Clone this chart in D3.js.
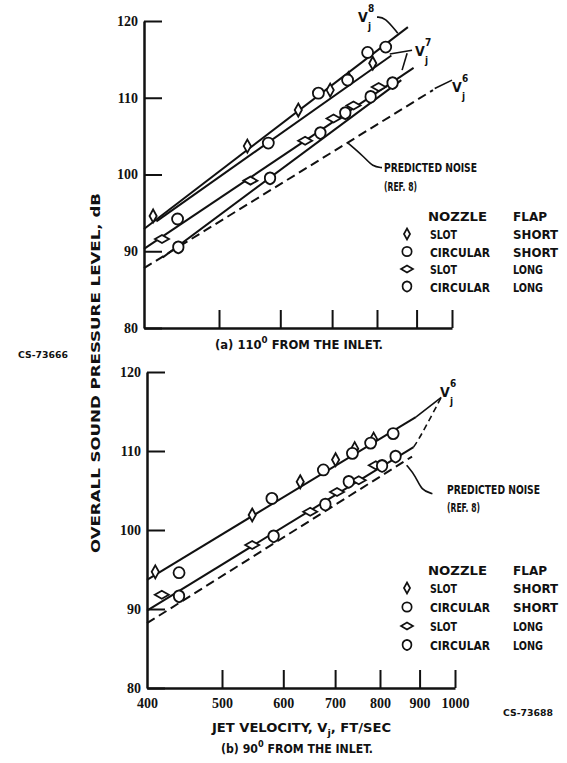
<!DOCTYPE html>
<html lang="en">
<head>
<meta charset="utf-8">
<style>
  body { margin: 0; background: #fff; }
  svg { display: block; }
  .lbl { font-family: "Liberation Sans Narrow", "DejaVu Sans Condensed", "Roboto Condensed", sans-serif; font-weight: bold; fill: #111; }
  .num { font-family: "Liberation Serif", "DejaVu Serif", serif; font-weight: bold; fill: #111; font-size: 14px; }
  .axis .domain { stroke: #111; stroke-width: 2.5; }
  .axis .tick line { stroke: #111; stroke-width: 2; }
</style>
</head>
<body>
<svg width="567" height="763"></svg>
<script src="https://d3js.org/d3.v7.min.js"></script>
<script>
// ---- data: [jet velocity ft/sec, OASPL dB] ----
var velTicks = [400, 500, 600, 700, 800, 900, 1000];
var dbTicks = [80, 90, 100, 110, 120];

// (a) 110 deg from the inlet
var aSlotShort = [[411, 94.6], [544, 103.7], [633, 108.4], [696, 111.0], [735, 112.5], [790, 114.5]];
var aCircShort = [[442, 94.2], [579, 104.1], [672, 110.6], [733, 112.3], [778, 115.9], [821, 116.6]];
var aSlotLong = [[422, 91.6], [549, 99.2], [646, 104.4], [703, 107.3], [746, 109.0], [804, 111.4]];
var aCircLong = [[443, 90.5], [582, 99.5], [676, 105.4], [728, 108.0], [785, 110.1], [838, 111.9]];
var aFitV8 = [[400, 92.9], [877, 119.2]];
var aFitV7short = [[415, 93.9], [835, 115.5]];
var aFitV7long = [[400, 90.3], [892, 113.9]];
var aFitLong2 = [[423, 89.2], [860, 112.3]];
var aPredicted = [[400, 87.8], [945, 111.0]];

// (b) 90 deg from the inlet
var bSlotShort = [[410, 94.7], [547, 101.9], [631, 106.1], [701, 108.9], [742, 110.3], [785, 111.5]];
var bCircShort = [[440, 94.6], [580, 104.0], [676, 107.6], [737, 109.7], [778, 111.0], [832, 112.2]];
var bSlotLong = [[418, 91.8], [547, 98.1], [650, 102.3], [704, 104.8], [751, 106.3], [790, 108.2]];
var bCircLong = [[440, 91.6], [583, 99.2], [680, 103.2], [729, 106.1], [805, 108.1], [838, 109.3]];
var bFitShort = [[400, 93.7], [890, 114.3]];
var bFitLong = [[400, 89.8], [884, 110.5]];
var bPredicted = [[400, 88.2], [880, 109.3]];

var legendRows = [
  ["slotShort", "SLOT", "SHORT"],
  ["circShort", "CIRCULAR", "SHORT"],
  ["slotLong", "SLOT", "LONG"],
  ["circLong", "CIRCULAR", "LONG"]
];

var svg = d3.select("svg");

// marker shapes
var shapes = {
  slotShort: "M0,-6.5L3.6,0L0,6.5L-3.6,0Z",
  circShort: "M5.5,0A5.5,5.5 0 1,1 -5.5,0A5.5,5.5 0 1,1 5.5,0Z",
  slotLong: "M-7,0L0,-4L7,0L0,4Z",
  circLong: "M0,-6Q5.5,-5 5.2,0Q5,4.5 0,6Q-5,4.5 -5.2,0Q-5.5,-5 0,-6Z"
};

function drawPanel(x, y, series, fits, predicted, showLabels) {
  var g = svg.append("g");
  var line = d3.line().x(function(d) { return x(d[0]); }).y(function(d) { return y(d[1]); });

  g.append("g")
    .attr("class", "axis")
    .attr("transform", "translate(" + x(400) + ",0)")
    .call(d3.axisLeft(y).tickValues(dbTicks).tickSizeInner(-18).tickSizeOuter(0).tickPadding(6))
    .selectAll("text").attr("class", "num");

  var xa = g.append("g")
    .attr("class", "axis")
    .attr("transform", "translate(0," + y(80) + ")")
    .call(d3.axisBottom(x).tickValues(velTicks).tickSizeInner(-18).tickSizeOuter(0)
      .tickFormat(showLabels ? d3.format("d") : ""));
  xa.selectAll(".tick text").attr("class", "num").attr("y", 10);
  xa.selectAll(".tick").filter(function(d) { return d === 400; }).select("line").remove();

  fits.forEach(function(f) {
    g.append("path").datum(f).attr("d", line)
      .attr("fill", "none").attr("stroke", "#111").attr("stroke-width", 2);
  });
  g.append("path").datum(predicted).attr("d", line)
    .attr("fill", "none").attr("stroke", "#111").attr("stroke-width", 2)
    .attr("stroke-dasharray", "9,5");

  series.forEach(function(s) {
    g.selectAll(null).data(s.data).enter().append("path")
      .attr("d", shapes[s.key])
      .attr("transform", function(d) { return "translate(" + x(d[0]) + "," + y(d[1]) + ")"; })
      .attr("fill", "#fff").attr("stroke", "#111").attr("stroke-width", 1.8);
  });
  return g;
}

function txt(x, y, s, size, len, cls) {
  var t = svg.append("text").attr("class", cls || "lbl")
    .attr("x", x).attr("y", y).style("font-size", size + "px").text(s);
  if (len) t.attr("textLength", len).attr("lengthAdjust", "spacingAndGlyphs");
  return t;
}

// one text with a raised or lowered small part in the middle
function txtShift(x, y, a, b, c, size, shift) {
  var t = svg.append("text").attr("class", "lbl")
    .attr("x", x).attr("y", y).style("font-size", size + "px");
  t.append("tspan").text(a);
  t.append("tspan").attr("dy", shift).style("font-size", "9px").text(b);
  t.append("tspan").attr("dy", -shift).text(c);
  return t;
}

function vLabel(x, y, sup) {
  txt(x, y, "V", 14, null);
  txt(x + 10, y - 10, sup, 10, null);
  txt(x + 10, y + 8, "j", 10, null);
}

function legend(x0, yHead, rows, step) {
  txt(x0 + 21, yHead + 5, "NOZZLE", 12, 59);
  txt(x0 + 106, yHead + 5, "FLAP", 12, 34);
  rows.forEach(function(r, i) {
    var yy = yHead + 18 + i * step;
    svg.append("path").attr("d", shapes[r[0]])
      .attr("transform", "translate(" + x0 + "," + yy + ") scale(0.85)")
      .attr("fill", "#fff").attr("stroke", "#111").attr("stroke-width", 2);
    txt(x0 + 23, yy + 5, r[1], 12, r[1] === "SLOT" ? 27 : 60);
    txt(x0 + 106, yy + 5, r[2], 12, r[2] === "SHORT" ? 45 : 30);
  });
}

// ---- panel (a) ----
var xa = d3.scaleLog().domain([400, 1000]).range([144, 452]);
var ya = d3.scaleLinear().domain([80, 120]).range([328, 21]);
drawPanel(xa, ya, [
  {key: "slotShort", data: aSlotShort}, {key: "circShort", data: aCircShort},
  {key: "slotLong", data: aSlotLong}, {key: "circLong", data: aCircLong}
], [aFitV8, aFitV7short, aFitV7long, aFitLong2], aPredicted, false);

// ---- panel (b) ----
var xb = d3.scaleLog().domain([400, 1000]).range([147, 455]);
var yb = d3.scaleLinear().domain([80, 120]).range([688, 372]);
drawPanel(xb, yb, [
  {key: "slotShort", data: bSlotShort}, {key: "circShort", data: bCircShort},
  {key: "slotLong", data: bSlotLong}, {key: "circLong", data: bCircLong}
], [bFitShort, bFitLong], bPredicted, true);

// leaders (data coordinates)
var lead = d3.line().curve(d3.curveBasis);
function leader(x, y, pts, dash) {
  svg.append("path").attr("d", lead(pts.map(function(p) { return [x(p[0]), y(p[1])]; })))
    .attr("fill", "none").attr("stroke", "#111").attr("stroke-width", 1.6)
    .attr("stroke-dasharray", dash ? "6,4" : null);
}
leader(xa, ya, [[800, 120.5], [819, 120.5], [851, 118.4]]);
leader(xa, ya, [[888, 116.2], [831, 115.7]]);
leader(xa, ya, [[875, 115.8], [862, 113.6]]);
leader(xa, ya, [[1000, 112.3], [950, 111.2]]);
leader(xa, ya, [[734, 104.1], [770, 102.3], [790, 101.0], [812, 100.9]]);
leader(xb, yb, [[890, 114.3], [960, 116.8]]);
leader(xb, yb, [[884, 110.5], [900, 111.6], [960, 116.8]], true);
leader(xb, yb, [[866, 108.2], [890, 106.8], [905, 105.0], [935, 104.6]]);

// annotations
vLabel(358, 22, "8");
vLabel(415, 56, "7");
vLabel(452, 92, "6");
txt(384, 172, "PREDICTED NOISE", 12, 93);
txt(384, 191, "(REF. 8)", 12, 33);
legend(407, 216, legendRows, 17.5);

vLabel(440, 397, "6");
txt(447, 494, "PREDICTED NOISE", 12, 93);
txt(447, 512, "(REF. 8)", 12, 33);
legend(407, 570, legendRows, 19);

// captions
txtShift(215, 349, "(a) 110", "0", " FROM THE INLET.", 12, -6).attr("textLength", 168).attr("lengthAdjust", "spacingAndGlyphs");
txtShift(212, 732, "JET VELOCITY, V", "j", ", FT/SEC", 12, 4).attr("textLength", 179).attr("lengthAdjust", "spacingAndGlyphs");
txtShift(221, 753, "(b) 90", "0", " FROM THE INLET.", 12, -6).attr("textLength", 152).attr("lengthAdjust", "spacingAndGlyphs");

txt(18, 358, "CS-73666", 9, 50);
txt(503, 716, "CS-73688", 9, 50);

svg.append("text").attr("class", "lbl")
  .attr("transform", "translate(100,373) rotate(-90)")
  .attr("text-anchor", "middle").style("font-size", "13px")
  .attr("textLength", 360).attr("lengthAdjust", "spacingAndGlyphs")
  .text("OVERALL SOUND PRESSURE LEVEL, dB");
</script>
</body>
</html>
